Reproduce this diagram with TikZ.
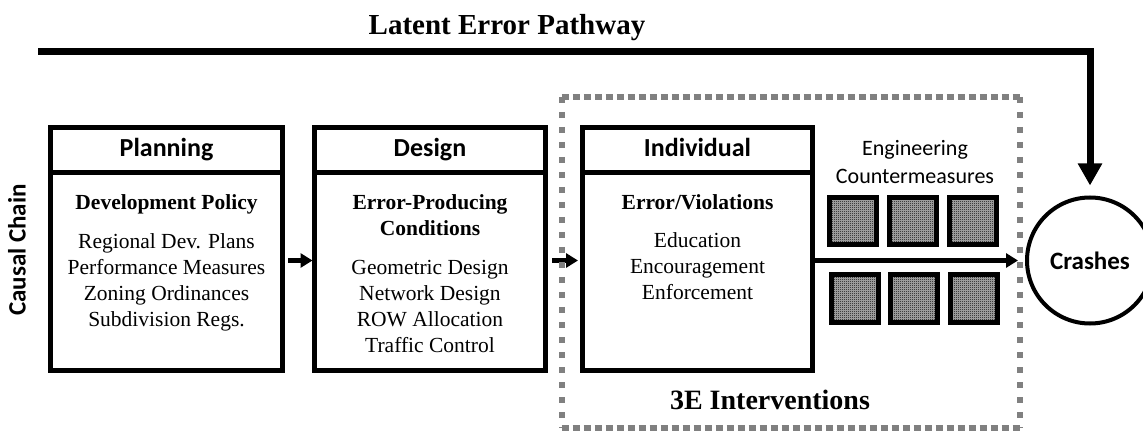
\documentclass[tikz,border=0pt]{standalone}
\usepackage{fontspec}
\setmainfont{Liberation Serif}
\setsansfont{Carlito}
\usetikzlibrary{positioning,arrows.meta,patterns}
\pgfdeclarepatternformonly{finechecker}{\pgfqpoint{0pt}{0pt}}{\pgfqpoint{2pt}{2pt}}{\pgfqpoint{2pt}{2pt}}{%
	\pgfpathrectangle{\pgfqpoint{0pt}{0pt}}{\pgfqpoint{1pt}{1pt}}%
	\pgfpathrectangle{\pgfqpoint{1pt}{1pt}}{\pgfqpoint{1pt}{1pt}}%
	\pgfusepath{fill}}
\begin{document}
\begin{tikzpicture}[x=1pt,y=-1pt,line join=miter]
	\tikzset{
		hdr/.style={draw,line width=5pt,outer sep=0pt,minimum height=45pt,text height=18pt,text depth=5pt,font=\sffamily\bfseries\fontsize{26}{30}\selectfont},
		body/.style={draw,line width=5pt,outer sep=0pt,minimum height=198pt},
		txt/.style={anchor=north,inner sep=0pt,align=center,font=\fontsize{21.5}{26}\selectfont},
		flow/.style={line width=4.5pt,-{Triangle[length=12pt,width=14pt]}},
		latent/.style={line width=7pt,-{Triangle[length=22pt,width=23pt]}},
		cmbox/.style={draw,line width=5pt,minimum size=47pt,inner sep=0pt,outer sep=0pt,preaction={fill=black!30},pattern=finechecker},
		dotline/.style={draw=gray,line width=6pt}
	}
	\useasboundingbox (0,0) rectangle (1143,438);
	\node[font=\bfseries\fontsize{29}{32}\selectfont] (ltitle) at (507,28) {Latent Error Pathway};
	\node[rotate=90,font=\sffamily\bfseries\fontsize{25}{28}\selectfont] (causal) at (17,250) {Causal Chain};
	\node[hdr,minimum width=232pt] (planH) at (166.5,150) {Planning};
	\node[body,minimum width=232pt,below=0pt of planH] (planB) {};
	\node[hdr,minimum width=231pt] (desH) at (430,150) {Design};
	\node[body,minimum width=231pt,below=0pt of desH] (desB) {};
	\node[hdr,minimum width=230pt] (indH) at (697.5,150) {Individual};
	\node[body,minimum width=230pt,below=0pt of indH] (indB) {};
	\node[txt] (planT) at ([yshift=-22pt]planB.north) {\textbf{Development Policy}\\[13pt]Regional Dev. Plans\\Performance Measures\\Zoning Ordinances\\Subdivision Regs.};
	\node[txt] (desT) at ([yshift=-22pt]desB.north) {\textbf{Error-Producing}\\\textbf{Conditions}\\[13pt]Geometric Design\\Network Design\\ROW Allocation\\Traffic Control};
	\node[txt] (indT) at ([yshift=-22pt]indB.north) {\textbf{Error/Violations}\\[12pt]Education\\Encouragement\\Enforcement};
	\node[draw,circle,line width=4pt,minimum size=126pt,inner sep=0pt,font=\sffamily\bfseries\fontsize{25}{28}\selectfont] (crash) at (1090,260.5) {Crashes};
	\node[font=\sffamily\fontsize{22}{28}\selectfont,align=center] (eng) at (915,162) {Engineering\\Countermeasures};
	\foreach \i/\x/\y in {1/853/221.5,2/912.5/221.5,3/972.5/221.5,4/855/298.5,5/914/298.5,6/974/298.5}{
		\node[cmbox] (cm\i) at (\x,\y) {};
	}
	\draw[flow,shorten <=5.5pt,shorten >=2pt] ([yshift=11pt]planB.east) -- ([yshift=11pt]desB.west);
	\draw[flow,shorten <=6.5pt,shorten >=4.5pt] ([yshift=11pt]desB.east) -- ([yshift=11pt]indB.west);
	\draw[flow,shorten <=2.5pt,shorten >=7pt] ([yshift=11pt]indB.east) -- (crash.west);
	\path (38,51.5) coordinate (lstart);
	\draw[latent,shorten >=10pt] (lstart) -| (crash.north);
	\path (561.5,97) coordinate (f1) (1020,428) coordinate (f2);
	\draw[dotline,dash pattern=on 7pt off 4pt] (f1) -- (f1-|f2) (f1|-f2) -- (f2);
	\draw[dotline,dash pattern=on 6pt off 9pt] (f1) -- (f1|-f2) (f1-|f2) -- (f2);
	\node[font=\bfseries\fontsize{28}{32}\selectfont] (three) at (770,400) {3E Interventions};
\end{tikzpicture}
\end{document}
